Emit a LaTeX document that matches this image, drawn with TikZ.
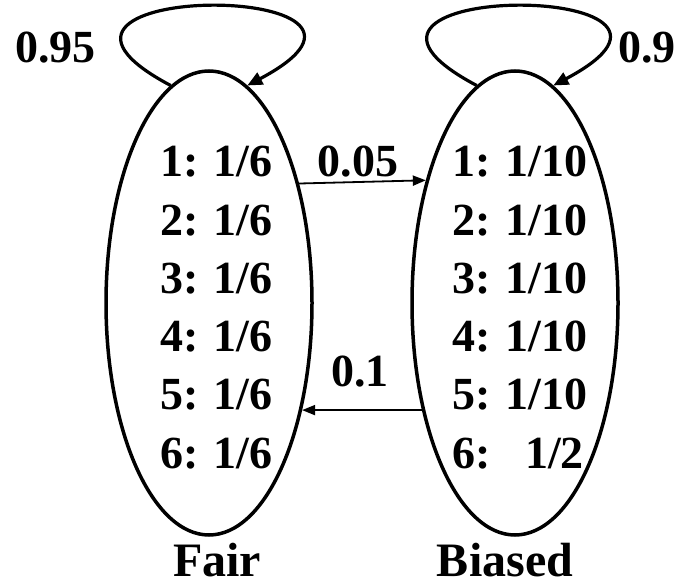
\documentclass[tikz,border=0pt]{standalone}
\usepackage{fontspec}
\setmainfont{Liberation Serif}
\usetikzlibrary{arrows.meta,shapes.geometric}
\begin{document}
\begin{tikzpicture}[x=1pt,y=-1pt,
  state/.style={draw,line width=3.5pt,ellipse,minimum width=206pt,minimum height=464pt,inner sep=0pt},
  prob/.style={font=\fontsize{46}{50}\bfseries\selectfont,inner sep=0pt},
  title/.style={font=\fontsize{48}{52}\bfseries\selectfont,inner sep=0pt,text depth=0pt},
  selfloop/.style={line width=3.2pt,-{Triangle[length=15pt,width=13pt]}},
  switch/.style={line width=1.8pt,-{Triangle[length=13pt,width=10pt]}}]
\useasboundingbox (0,0) rectangle (683,585);

% the two states
\node[state] (L) at (209,303) {};
\node[state] (R) at (515,303) {};

% emission probabilities, fair die
\node[prob,anchor=base west] (f1) at (160,177) {1: 1/6};
\node[prob,anchor=base west] (f2) at (160,235.2) {2: 1/6};
\node[prob,anchor=base west] (f3) at (160,293.4) {3: 1/6};
\node[prob,anchor=base west] (f4) at (160,351.6) {4: 1/6};
\node[prob,anchor=base west] (f5) at (160,409.8) {5: 1/6};
\node[prob,anchor=base west] (f6) at (160,468) {6: 1/6};

% emission probabilities, biased die
\node[prob,anchor=base west] (b1) at (452,177) {1: 1/10};
\node[prob,anchor=base west] (b2) at (452,235.2) {2: 1/10};
\node[prob,anchor=base west] (b3) at (452,293.4) {3: 1/10};
\node[prob,anchor=base west] (b4) at (452,351.6) {4: 1/10};
\node[prob,anchor=base west] (b5) at (452,409.8) {5: 1/10};
\node[prob,anchor=base west] (b6a) at (452,468) {6:};
\node[prob,anchor=base east] (b6b) at (584,468) {1/2};

% self transitions
\draw[selfloop] (L.100) .. controls +(-200,-106) and +(200,-106) .. (L.80);
\draw[selfloop] (R.100) .. controls +(-200,-106) and +(200,-106) .. (R.80);
\node[prob,anchor=base west] (p95) at (15,63) {0.95};
\node[prob,anchor=base west] (p9) at (618,63) {0.9};

% switching between the dice
\draw[switch] (L.53.7) -- (R.126.3);
\node[prob,anchor=base] (p05) at (358,177) {0.05};
\draw[switch] (R.229.2) -- (L.-49.2);
\node[prob,anchor=base] (p1) at (360,387) {0.1};

% state names
\node[title,anchor=base] (fair) at (217,576) {Fair};
\node[title,anchor=base] (biased) at (505,576) {Biased};
\end{tikzpicture}
\end{document}
